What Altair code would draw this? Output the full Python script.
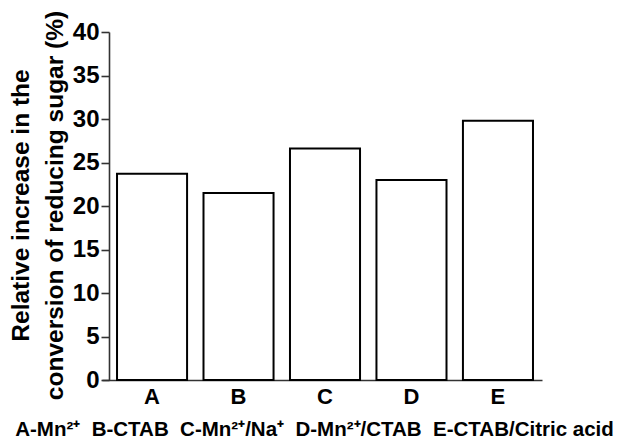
import altair as alt
import pandas as pd

categories = ["A", "B", "C", "D", "E"]
values = [23.7, 21.5, 26.6, 23.0, 29.8]
y_ticks = [0, 5, 10, 15, 20, 25, 30, 35, 40]
legend_labels = ["A-Mn²⁺", "B-CTAB", "C-Mn²⁺/Na⁺", "D-Mn²⁺/CTAB", "E-CTAB/Citric acid"]
y_title = ["Relative increase in the", "conversion of reducing sugar (%)"]

df = pd.DataFrame({"cat": categories, "val": values})
FONT = "Liberation Sans"
GAP = "\u00a0\u00a0"

bars = alt.Chart(df).mark_bar(
    fill="white", stroke="black", strokeWidth=2
).encode(
    x=alt.X(
        "cat:N",
        sort=categories,
        scale=alt.Scale(paddingInner=0.19, paddingOuter=0.139, align=0.625),
        axis=alt.Axis(
            title=GAP.join(legend_labels),
            titleFont=FONT, titleFontSize=20.5, titleFontWeight="bold",
            titleColor="black", titleBaseline="alphabetic",
            titleX=212, titleY=55,
            labelFont=FONT, labelFontSize=22, labelFontWeight="bold",
            labelColor="black", labelPadding=6, labelAngle=0,
            ticks=False, domainColor="#333333", domainWidth=1.6,
        ),
    ),
    y=alt.Y(
        "val:Q",
        scale=alt.Scale(domain=[0, 40], nice=False),
        axis=alt.Axis(
            values=y_ticks, offset=-7,
            title=y_title,
            titleFont=FONT, titleFontSize=24.5, titleFontWeight="bold",
            titleColor="black", titleLineHeight=34,
            titleAngle=-90, titleBaseline="alphabetic", titleAlign="center",
            titleX=-81, titleY=173,
            labelFont=FONT, labelFontSize=24, labelFontWeight="bold",
            labelColor="black", labelPadding=2,
            tickSize=8, tickWidth=1.6, tickColor="#333333",
            domainColor="#333333", domainWidth=1.6,
            grid=False,
        ),
    ),
)

chart = bars.properties(
    width=440, height=348,
    autosize=alt.AutoSizeParams(type="none"),
    padding={"left": 102, "top": 32, "right": 80, "bottom": 63},
    background="white",
).configure_view(stroke=None)

chart.save("out.html", embed_options={"renderer": "svg", "actions": False})
